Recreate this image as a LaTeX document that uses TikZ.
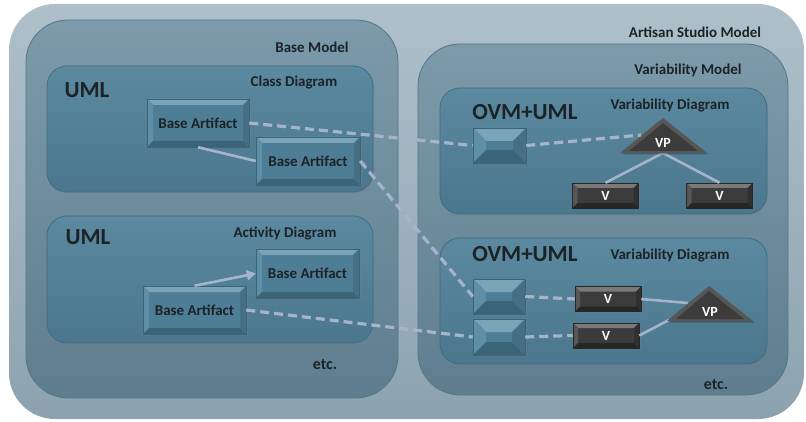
\documentclass[tikz,border=0pt]{standalone}
\usepackage{fontspec}
\setmainfont{Carlito}
\usetikzlibrary{arrows.meta,shadows}
\definecolor{outerA}{HTML}{AEC0CA}
\definecolor{outerB}{HTML}{8CA3AF}
\definecolor{midA}{HTML}{7C9AAA}
\definecolor{midB}{HTML}{5E7E8F}
\definecolor{midE}{HTML}{587686}
\definecolor{inA}{HTML}{5B899F}
\definecolor{inB}{HTML}{4A778D}
\definecolor{inE}{HTML}{416C81}
\definecolor{faceB}{HTML}{4E7E96}
\definecolor{topB}{HTML}{7BA4B8}
\definecolor{leftB}{HTML}{5F8FA6}
\definecolor{botB}{HTML}{3A6478}
\definecolor{rightB}{HTML}{446F85}
\definecolor{faceG}{HTML}{3C3C3C}
\definecolor{topG}{HTML}{7A7A7A}
\definecolor{leftG}{HTML}{575757}
\definecolor{botG}{HTML}{262626}
\definecolor{rightG}{HTML}{303030}
\definecolor{linkc}{HTML}{A6B4CA}
\definecolor{txt}{HTML}{1C2226}
\newcommand\bvl[5]{%
  \coordinate (bNW) at (path picture bounding box.north west);
  \coordinate (bNE) at (path picture bounding box.north east);
  \coordinate (bSW) at (path picture bounding box.south west);
  \coordinate (bSE) at (path picture bounding box.south east);
  \coordinate (iNW) at ([xshift=#1,yshift=-#1]bNW);
  \coordinate (iNE) at ([xshift=-#1,yshift=-#1]bNE);
  \coordinate (iSW) at ([xshift=#1,yshift=#1]bSW);
  \coordinate (iSE) at ([xshift=-#1,yshift=#1]bSE);
  \fill[#2] (bNW)--(bNE)--(iNE)--(iNW)--cycle;
  \fill[#3] (bNW)--(iNW)--(iSW)--(bSW)--cycle;
  \fill[#4] (bSW)--(iSW)--(iSE)--(bSE)--cycle;
  \fill[#5] (bNE)--(bSE)--(iSE)--(iNE)--cycle;
}
\tikzset{
  outerbox/.style={rounded corners=46pt, top color=outerA, bottom color=outerB},
  midbox/.style={rounded corners=42pt, top color=midA, bottom color=midB, draw=midE, line width=0.8pt},
  inbox/.style={rounded corners=20pt, top color=inA, bottom color=inB, draw=inE, line width=0.8pt,
    drop shadow={opacity=0.25, shadow xshift=1pt, shadow yshift=-2pt}},
  artbox/.style={rectangle, inner sep=0pt, fill=faceB, draw=botB, line width=0.5pt,
    font=\bfseries\fontsize{15}{16}\selectfont, text=txt,
    path picture={\bvl{#1}{topB}{leftB}{botB}{rightB}},
    drop shadow={opacity=0.3, shadow xshift=1.5pt, shadow yshift=-1.5pt}},
  artbox/.default=6pt,
  vbox/.style={rectangle, inner sep=0pt, fill=faceG, draw=botG, line width=0.5pt,
    minimum width=66pt, minimum height=25pt,
    font=\bfseries\fontsize{14}{15}\selectfont, text=white,
    path picture={\bvl{5pt}{topG}{leftG}{botG}{rightG}},
    drop shadow={opacity=0.3, shadow xshift=1.5pt, shadow yshift=-1.5pt}},
  lbl/.style={font=\bfseries\fontsize{15}{16}\selectfont, text=txt, inner sep=0pt, anchor=base},
  big/.style={font=\bfseries\fontsize{23}{24}\selectfont, text=txt, inner sep=0pt, anchor=base},
  etcl/.style={font=\bfseries\fontsize{16}{17}\selectfont, text=txt, inner sep=0pt, anchor=base},
  dashlink/.style={draw=linkc, line width=3.2pt, dash pattern=on 9pt off 5pt},
  solidlink/.style={draw=linkc, line width=2.6pt},
  tri/.style={fill=#1},
}
\begin{document}
\begin{tikzpicture}[x=1pt,y=-1pt]
\useasboundingbox[fill=white] (0,0) rectangle (806,422);
% containers
\path[outerbox] (9,4) rectangle (804,419);
\path[midbox] (26,20) rectangle (398,398);
\path[midbox] (418,44) rectangle (788,395);
\path[inbox] (47,66) rectangle (373,192);
\path[inbox] (47,216) rectangle (373,343);
\path[inbox] (440,88) rectangle (767,214);
\path[inbox] (440,238) rectangle (767,364);
% labels
\node[lbl] (asm) at (695,38) {Artisan Studio Model};
\node[lbl] (bm) at (312,53) {Base Model};
\node[lbl] (vm) at (688,75) {Variability Model};
\node[lbl] (cd) at (294,87) {Class Diagram};
\node[lbl] (ad) at (285,237) {Activity Diagram};
\node[lbl] (vd1) at (670,110) {Variability Diagram};
\node[lbl] (vd2) at (670,259) {Variability Diagram};
\node[big] (uml1) at (87,97.5) {UML};
\node[big] (uml2) at (88,245) {UML};
\node[big] (ovm1) at (525,119.5) {OVM+UML};
\node[big] (ovm2) at (525,261.5) {OVM+UML};
\node[etcl] (etc1) at (325,369) {etc.};
\node[etcl] (etc2) at (716,389) {etc.};
% triangle coordinates
\coordinate (t1a) at (663,118);
\coordinate (t1l) at (620,153);
\coordinate (t1r) at (707,153);
\coordinate (t1b) at (663,153);
\coordinate (t1w) at (641,135);
\coordinate (t2a) at (709,286);
\coordinate (t2l) at (667,321);
\coordinate (t2r) at (753,321);
\coordinate (t2s) at (688,303);
\coordinate (t2c) at (669,320);
% boxes
\node[artbox, minimum width=102pt, minimum height=48pt] (ba1) at (198,123) {Base Artifact};
\node[artbox, minimum width=104pt, minimum height=48pt] (ba2) at (308,161) {Base Artifact};
\node[artbox, minimum width=103pt, minimum height=49pt] (ba3) at (307.5,273.5) {Base Artifact};
\node[artbox, minimum width=103pt, minimum height=48pt] (ba4) at (194.5,310) {Base Artifact};
\node[artbox=13pt, minimum width=53pt, minimum height=35pt] (sb1) at (499.5,145.5) {};
\node[artbox=13pt, minimum width=52pt, minimum height=35pt] (sb2) at (499,296.5) {};
\node[artbox=13pt, minimum width=52pt, minimum height=36pt] (sb3) at (499,337) {};
\node[vbox] (v1) at (605.5,195.5) {V};
\node[vbox] (v2) at (719.5,195.5) {V};
\node[vbox] (v3) at (608,299) {V};
\node[vbox] (v4) at (606,335.5) {V};
% solid links
\draw[solidlink] (ba1.south) -- (ba2.west);
\draw[solidlink, -{Triangle[length=9pt,width=10pt]}] (ba4.north) -- (ba3.west);
\draw[solidlink] (t1b) -- (v1.north);
\draw[solidlink] (t1b) -- (v2.north);
\draw[solidlink] (v3.east) -- (t2s);
\draw[solidlink] (v4.east) -- (t2c);
% triangles
\fill[fill=black, opacity=0.25] ([shift={(1.5pt,-1.5pt)}]t1a) -- ([shift={(1.5pt,-1.5pt)}]t1l) -- ([shift={(1.5pt,-1.5pt)}]t1r) -- cycle;
\fill[tri=leftG] (t1a) -- (t1l) -- (t1r) -- cycle;
\fill[tri=faceG] (663,123) -- (629,151) -- (698,151) -- cycle;
\fill[fill=black, opacity=0.25] ([shift={(1.5pt,-1.5pt)}]t2a) -- ([shift={(1.5pt,-1.5pt)}]t2l) -- ([shift={(1.5pt,-1.5pt)}]t2r) -- cycle;
\fill[tri=leftG] (t2a) -- (t2l) -- (t2r) -- cycle;
\fill[tri=faceG] (709,291) -- (676,319) -- (744,319) -- cycle;
\node[font=\bfseries\fontsize{14}{15}\selectfont, text=white, inner sep=0pt] (vp1) at (663,143) {VP};
\node[font=\bfseries\fontsize{14}{15}\selectfont, text=white, inner sep=0pt] (vp2) at (710,312) {VP};
% dashed links
\draw[dashlink] (ba1.east) -- (sb1.west);
\draw[dashlink] (sb1.east) -- (t1w);
\draw[dashlink] (ba2.east) -- (sb2.west);
\draw[dashlink] (ba4.east) -- (sb3.west);
\draw[dashlink] (sb2.east) -- (v3.west);
\draw[dashlink] (sb3.east) -- (v4.west);
\end{tikzpicture}
\end{document}
